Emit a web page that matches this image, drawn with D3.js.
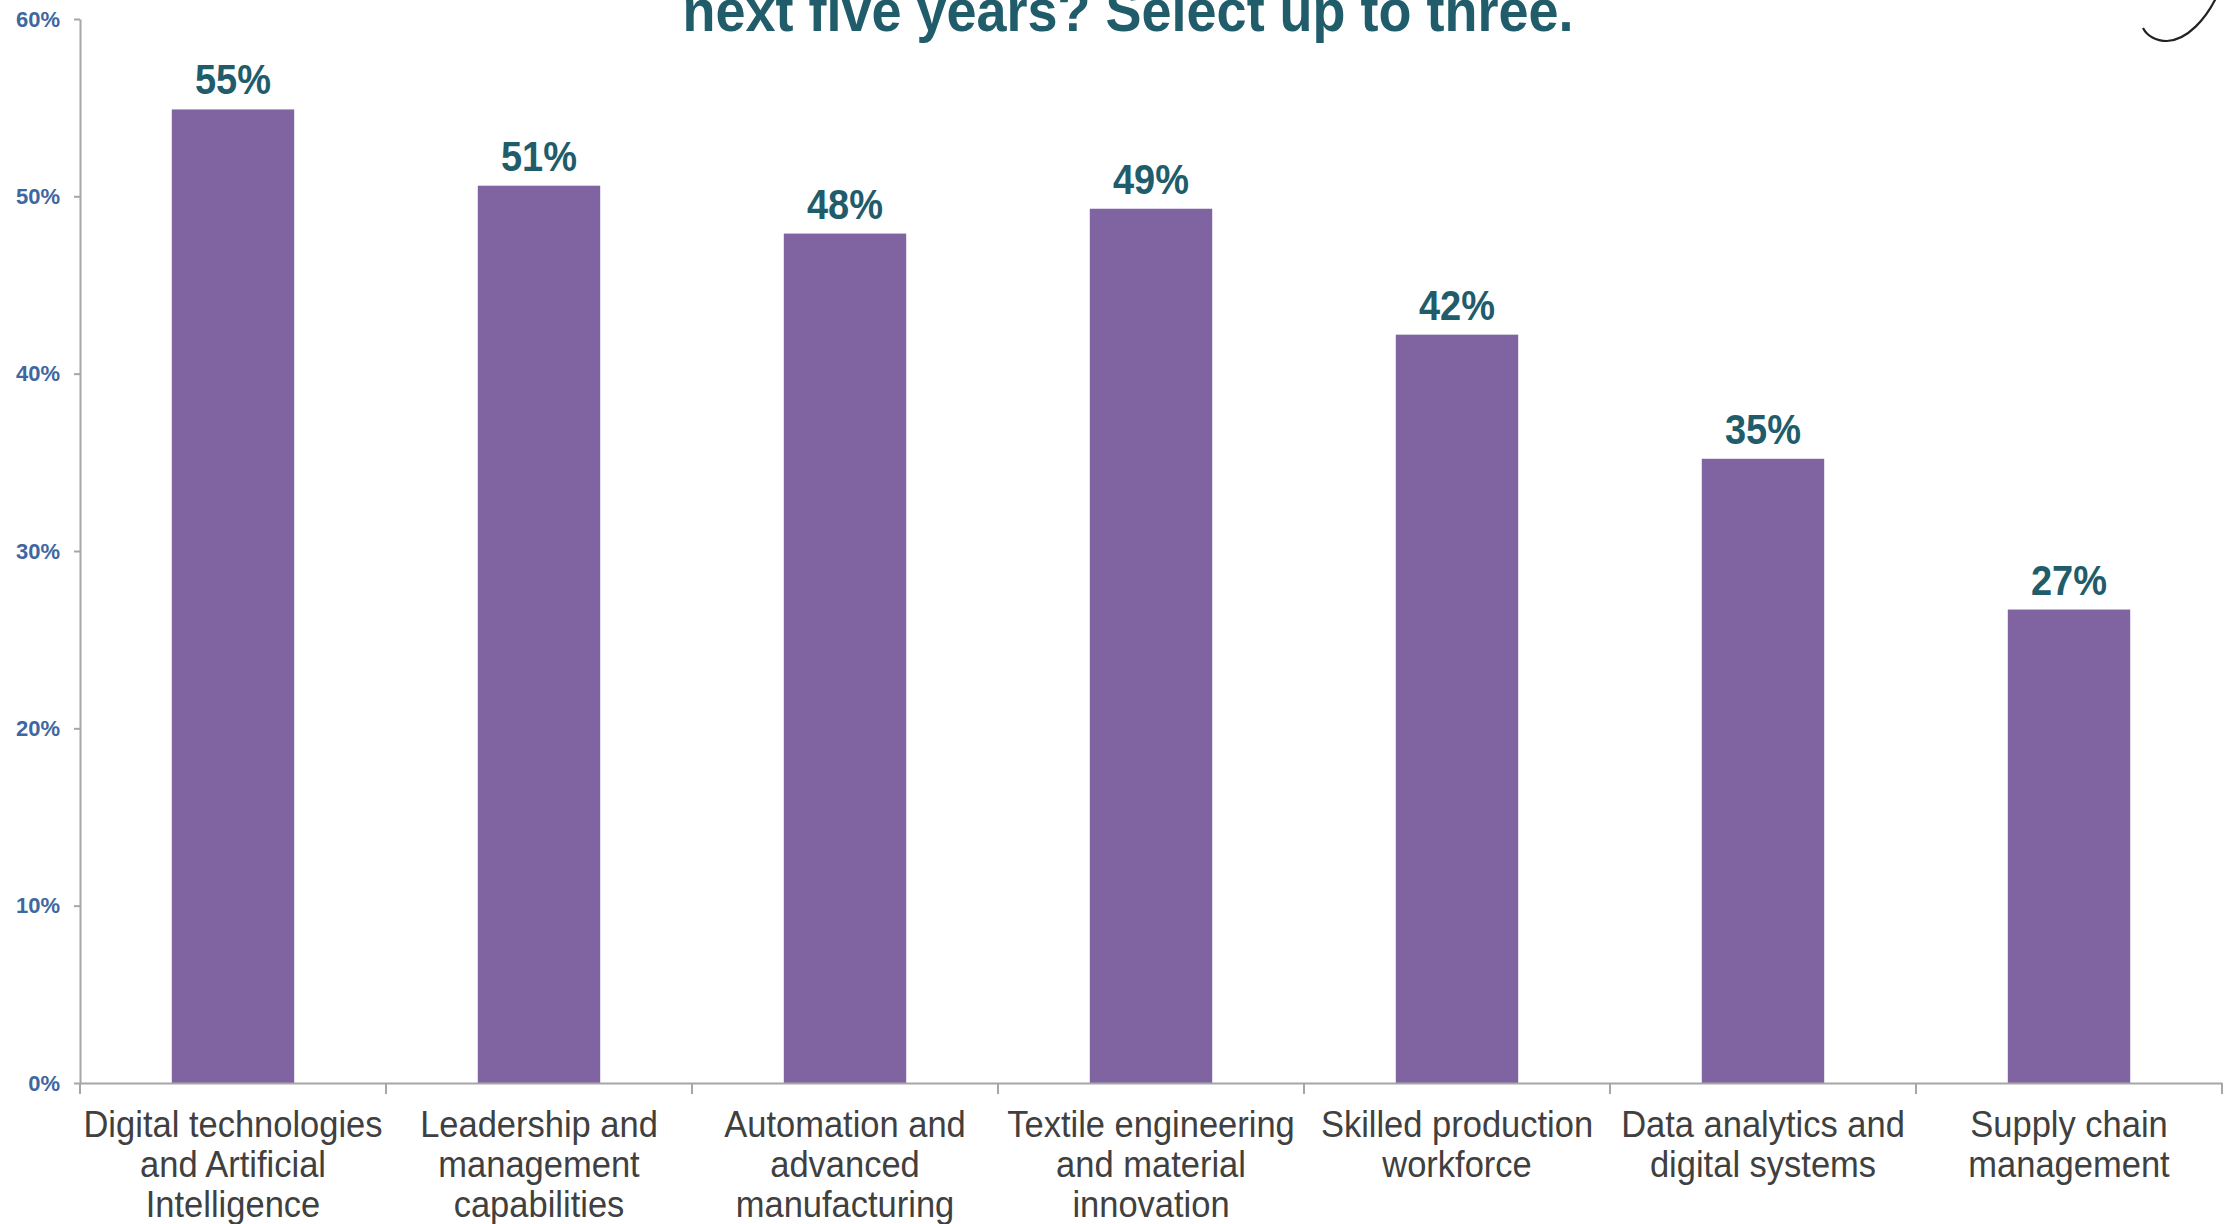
<!DOCTYPE html>
<html>
<head>
<meta charset="utf-8">
<script src="https://cdn.jsdelivr.net/npm/d3@7"></script>
<style>
  html, body { margin: 0; padding: 0; background: #fff; overflow: hidden; }
  text { font-family: "Liberation Sans", Arial, sans-serif; }
</style>
</head>
<body>
<div id="chart"></div>
<script>
// data
const categories = [
  "Digital technologies and Artificial Intelligence",
  "Leadership and management capabilities",
  "Automation and advanced manufacturing",
  "Textile engineering and material innovation",
  "Skilled production workforce",
  "Data analytics and digital systems",
  "Supply chain management"
];
const categoryLines = [
  ["Digital technologies", "and Artificial", "Intelligence"],
  ["Leadership and", "management", "capabilities"],
  ["Automation and", "advanced", "manufacturing"],
  ["Textile engineering", "and material", "innovation"],
  ["Skilled production", "workforce"],
  ["Data analytics and", "digital systems"],
  ["Supply chain", "management"]
];
const values = [0.549, 0.506, 0.479, 0.493, 0.422, 0.352, 0.267];
const yTicks = [0, 0.1, 0.2, 0.3, 0.4, 0.5, 0.6];
const titleText = "next five years? Select up to three.";

const width = 2229, height = 1224;
const margin = { top: 19, right: 7, bottom: 141, left: 80 };

const svg = d3.select("#chart").append("svg")
  .attr("width", width)
  .attr("height", height);

const x = d3.scaleBand()
  .domain(categories)
  .range([margin.left, width - margin.right])
  .padding(0);

const xBar = d3.scaleBand()
  .domain(categories)
  .range([margin.left, width - margin.right])
  .paddingInner(0.6)
  .paddingOuter(0.3);

const y = d3.scaleLinear()
  .domain([0, 0.6])
  .range([height - margin.bottom, margin.top]);

// title (first line is cut off above the frame)
svg.append("text")
  .attr("transform", "translate(1128,31) scale(1,1.1)")
  .attr("text-anchor", "middle")
  .attr("font-size", 54)
  .attr("font-weight", "bold")
  .attr("fill", "#215c6b")
  .text(titleText);

// corner decoration
svg.append("path")
  .attr("d", "M2216,-2 C2206,18 2188,40 2167,41 C2156,41 2147,36 2143,28")
  .attr("fill", "none")
  .attr("stroke", "#222")
  .attr("stroke-width", 2.2);

// y axis
const yAxis = svg.append("g")
  .attr("transform", `translate(${margin.left},0)`)
  .call(d3.axisLeft(y).tickValues(yTicks).tickFormat(d3.format(".0%")).tickSize(6).tickSizeOuter(0));
yAxis.select(".domain").attr("stroke", "#a6a6a6").attr("stroke-width", 2);
yAxis.selectAll(".tick line").attr("stroke", "#a6a6a6").attr("stroke-width", 2);
yAxis.selectAll(".tick text")
  .attr("x", -20)
  .attr("font-size", 22)
  .attr("font-weight", "bold")
  .attr("fill", "#3f67a0")
  .attr("font-family", "'Liberation Sans', Arial, sans-serif");

// bars
svg.selectAll(".bar")
  .data(values)
  .enter()
  .append("rect")
  .attr("class", "bar")
  .attr("x", (d, i) => xBar(categories[i]))
  .attr("y", d => y(d))
  .attr("width", xBar.bandwidth())
  .attr("height", d => y(0) - y(d))
  .attr("fill", "#8064a2");

// value labels
svg.selectAll(".val")
  .data(values)
  .enter()
  .append("text")
  .attr("class", "val")
  .attr("transform", (d, i) => `translate(${xBar(categories[i]) + xBar.bandwidth() / 2},${y(d) - 15}) scale(1,1.12)`)
  .attr("text-anchor", "middle")
  .attr("font-size", 38)
  .attr("font-weight", "bold")
  .attr("fill", "#215c6b")
  .text(d => d3.format(".0%")(d));

// x axis with ticks on category boundaries
const xAxis = svg.append("g")
  .attr("transform", `translate(0,${y(0)})`)
  .call(d3.axisBottom(x).tickSize(0).tickFormat(() => ""));
xAxis.select(".domain").attr("stroke", "#a6a6a6").attr("stroke-width", 2);

const bounds = categories.map(c => x(c)).concat([x.range()[1]]);
xAxis.selectAll(".bound")
  .data(bounds)
  .enter()
  .append("line")
  .attr("class", "bound")
  .attr("x1", d => d).attr("x2", d => d)
  .attr("y1", 0).attr("y2", 11)
  .attr("stroke", "#a6a6a6")
  .attr("stroke-width", 2);

// category labels
const labels = svg.selectAll(".cat")
  .data(categories)
  .enter()
  .append("text")
  .attr("class", "cat")
  .attr("transform", d => `translate(${x(d) + x.bandwidth() / 2},${y(0) + 54}) scale(1,1.08)`)
  .attr("text-anchor", "middle")
  .attr("font-size", 34.5)
  .attr("fill", "#404040");

labels.each(function(d, i) {
  d3.select(this).selectAll("tspan")
    .data(categoryLines[i])
    .enter()
    .append("tspan")
    .attr("x", 0)
    .attr("y", (l, j) => j * 37)
    .text(l => l);
});
</script>
</body>
</html>
